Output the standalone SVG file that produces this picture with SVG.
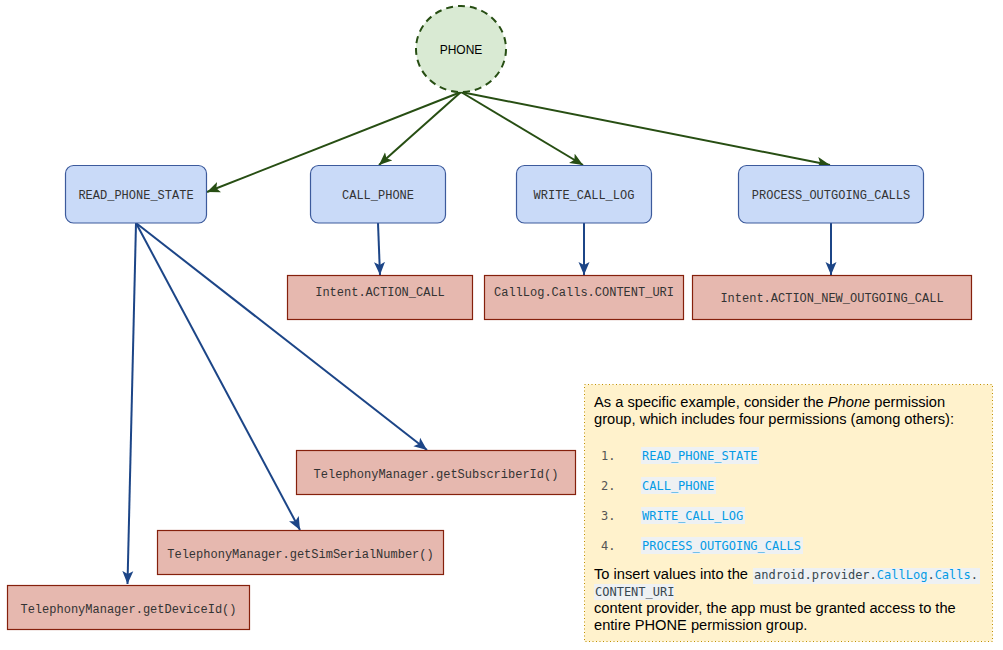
<svg xmlns="http://www.w3.org/2000/svg" width="1003" height="650" viewBox="0 0 1003 650">
<style>
.perm rect{fill:#c9daf8;stroke:#3c5a9c;stroke-width:1.2}
.api rect{fill:#e6b8af;stroke:#85200c;stroke-width:1.2}
.mono{font-family:"Liberation Mono","Courier New",monospace;font-size:12px;fill:#333;text-anchor:middle}
.g{stroke:#274e13;stroke-width:2;fill:none}
.b{stroke:#1c4587;stroke-width:2;fill:none}
.note{font-family:"Liberation Sans",Arial,sans-serif;font-size:14.67px;fill:#000}
.code{font-family:"DejaVu Sans Mono",monospace;font-size:12px}
.num{font-family:"DejaVu Sans Mono",monospace;font-size:12px;fill:#555}
.cb{fill:#039be5}
.hl{fill:#eef1f3}
</style>
<defs>
<marker id="ag" markerUnits="userSpaceOnUse" markerWidth="14" markerHeight="12" refX="13" refY="6" orient="auto">
<path d="M0,0.5 L13,6 L0,11.5 L3,6 z" fill="#274e13"/>
</marker>
<marker id="ab" markerUnits="userSpaceOnUse" markerWidth="14" markerHeight="12" refX="13" refY="6" orient="auto">
<path d="M0,0.5 L13,6 L0,11.5 L3,6 z" fill="#1c4587"/>
</marker>
</defs>
<rect width="1003" height="650" fill="#fff"/>

<g id="connectors">
<line class="g" x1="461" y1="92" x2="207" y2="192" marker-end="url(#ag)"/>
<line class="g" x1="461" y1="92" x2="379" y2="165" marker-end="url(#ag)"/>
<line class="g" x1="461" y1="92" x2="583" y2="165" marker-end="url(#ag)"/>
<line class="g" x1="461" y1="92" x2="830" y2="165" marker-end="url(#ag)"/>
<line class="b" x1="378" y1="223" x2="380" y2="275" marker-end="url(#ab)"/>
<line class="b" x1="584" y1="223" x2="584" y2="275" marker-end="url(#ab)"/>
<line class="b" x1="831" y1="223" x2="831" y2="275" marker-end="url(#ab)"/>
<line class="b" x1="136" y1="223" x2="127.5" y2="584" marker-end="url(#ab)"/>
<line class="b" x1="136" y1="223" x2="300" y2="530" marker-end="url(#ab)"/>
<line class="b" x1="136" y1="223" x2="427" y2="450" marker-end="url(#ab)"/>
</g>

<g id="phone">
<ellipse cx="461" cy="49" rx="45" ry="43" fill="#d9ead3" stroke="#274e13" stroke-width="2" stroke-dasharray="7,5"/>
<text x="461" y="53.5" font-family="Liberation Sans,Arial,sans-serif" font-size="12" text-anchor="middle" fill="#000">PHONE</text>
</g>

<g id="read_phone_state" class="perm">
<rect x="65.5" y="165.5" width="141" height="57.5" rx="8"/>
<text class="mono" x="136" y="198.5">READ_PHONE_STATE</text>
</g>
<g id="call_phone" class="perm">
<rect x="310.5" y="165.5" width="135" height="57.5" rx="8"/>
<text class="mono" x="378" y="198.5">CALL_PHONE</text>
</g>
<g id="write_call_log" class="perm">
<rect x="516.5" y="165.5" width="135" height="57.5" rx="8"/>
<text class="mono" x="584" y="198.5">WRITE_CALL_LOG</text>
</g>
<g id="process_outgoing_calls" class="perm">
<rect x="738.5" y="165.5" width="185" height="57.5" rx="8"/>
<text class="mono" x="831" y="198.5">PROCESS_OUTGOING_CALLS</text>
</g>

<g id="action_call" class="api">
<rect x="287.5" y="275.5" width="185" height="44"/>
<text class="mono" x="380" y="295.5">Intent.ACTION_CALL</text>
</g>
<g id="content_uri" class="api">
<rect x="484.5" y="275.5" width="199" height="44"/>
<text class="mono" x="584" y="295.5">CallLog.Calls.CONTENT_URI</text>
</g>
<g id="action_new_outgoing_call" class="api">
<rect x="692.5" y="275.5" width="279" height="44"/>
<text class="mono" x="832" y="302">Intent.ACTION_NEW_OUTGOING_CALL</text>
</g>
<g id="get_subscriber_id" class="api">
<rect x="296.5" y="450.5" width="279" height="44"/>
<text class="mono" x="436" y="478">TelephonyManager.getSubscriberId()</text>
</g>
<g id="get_sim_serial_number" class="api">
<rect x="157.5" y="530.5" width="286" height="44"/>
<text class="mono" x="300.5" y="557.5">TelephonyManager.getSimSerialNumber()</text>
</g>
<g id="get_device_id" class="api">
<rect x="7.5" y="585.5" width="242" height="44"/>
<text class="mono" x="128.5" y="613">TelephonyManager.getDeviceId()</text>
</g>

<g id="note">
<rect x="584.5" y="384.5" width="408" height="257" fill="#fff2cc" stroke="#bf9000" stroke-width="1" stroke-dasharray="1,2.5"/>
<text class="note" x="594" y="406.5">As a specific example, consider the <tspan font-style="italic">Phone</tspan> permission</text>
<text class="note" x="594" y="423.5">group, which includes four permissions (among others):</text>
<rect class="hl" x="641" y="447" width="118" height="17"/>
<rect class="hl" x="641" y="477" width="75" height="17"/>
<rect class="hl" x="641" y="507" width="104" height="17"/>
<rect class="hl" x="641" y="537" width="162" height="17"/>
<text class="num" x="601" y="460">1.</text>
<text class="num" x="601" y="490">2.</text>
<text class="num" x="601" y="520">3.</text>
<text class="num" x="601" y="550">4.</text>
<text class="code cb" x="642" y="460">READ_PHONE_STATE</text>
<text class="code cb" x="642" y="490">CALL_PHONE</text>
<text class="code cb" x="642" y="520">WRITE_CALL_LOG</text>
<text class="code cb" x="642" y="550">PROCESS_OUTGOING_CALLS</text>
<rect class="hl" x="753" y="568" width="227" height="16"/>
<rect class="hl" x="594" y="584" width="80" height="16"/>
<text class="note" x="594" y="578.5">To insert values into the </text>
<text class="code" x="754" y="579" fill="#37474f">android.provider.<tspan class="cb">CallLog</tspan>.<tspan class="cb">Calls</tspan>.</text>
<text class="code" x="595" y="595.5" fill="#37474f">CONTENT_URI</text>
<text class="note" x="594" y="613">content provider, the app must be granted access to the</text>
<text class="note" x="594" y="630">entire PHONE permission group.</text>
</g>
</svg>
